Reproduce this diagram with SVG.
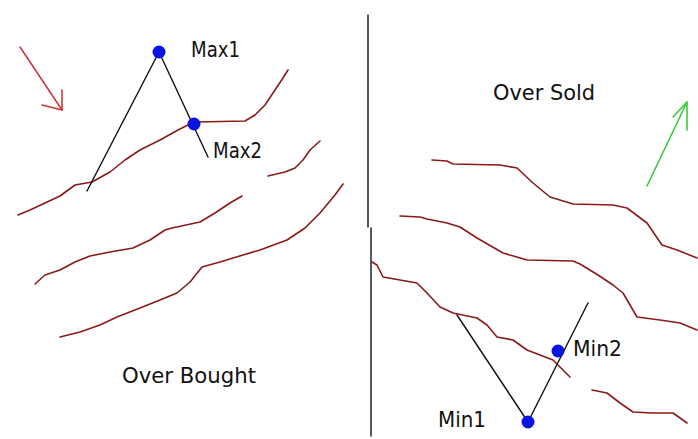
<svg xmlns="http://www.w3.org/2000/svg" width="698" height="439" viewBox="0 0 698 439">
  <style>
    .curve { fill: none; stroke: #8b1a1a; stroke-width: 1.6; stroke-linejoin: round; stroke-linecap: round; }
    .line { fill: none; stroke: #111; stroke-width: 1.4; stroke-linecap: round; stroke-linejoin: round; }
    .dot { fill: #0a14e0; }
    .lbl { font-family: "DejaVu Sans", "Liberation Sans", sans-serif; font-size: 21px; fill: #111; }
  </style>
  <rect width="698" height="439" fill="#ffffff"/>

  <g id="divider">
    <line x1="368" y1="15" x2="368" y2="227" class="line" stroke-width="2"/>
    <line x1="371" y1="228" x2="371" y2="436" class="line" stroke-width="2"/>
  </g>

  <g id="curves">
    <polyline class="curve" points="18,215 30,210 45,203 60,196 75,185 92,182 110,172 125,160 140,150 160,140 178,130 188,125 196,122 245,121 255,115 265,105 275,90 283,78 288,70"/>
    <polyline class="curve" points="268,176 285,172 295,168 303,160 310,150 320,141"/>
    <polyline class="curve" points="35,284 45,275 60,270 75,262 90,256 110,252 133,248 150,240 165,230 172,228 200,222 215,213 230,203 242,196"/>
    <polyline class="curve" points="60,337 80,332 100,325 117,317 140,308 160,300 177,293 190,282 202,267 220,262 233,258 260,250 287,240 305,228 320,213 335,195 343,184"/>
    <polyline class="curve" points="432,160 447,161 453,164 500,165 517,168 533,183 550,197 573,204 613,205 627,208 647,223 662,245 677,250 697,258"/>
    <polyline class="curve" points="400,216 420,217 427,219 447,223 460,227 477,238 503,253 527,260 573,261 580,264 598,275 613,285 623,293 637,317 660,320 680,323 697,330"/>
    <polyline class="curve" points="372,262 377,265 383,277 400,280 417,283 427,293 440,307 453,313 477,318 487,325 497,337 513,340 527,350 540,355 553,360 570,377"/>
    <polyline class="curve" points="592,390 607,393 620,403 633,412 653,413 673,413 687,423"/>
  </g>

  <g id="arrows">
    <g id="red-arrow" fill="none" stroke="#d03030" stroke-width="1.5" stroke-linecap="round" stroke-linejoin="round">
      <line x1="20" y1="47" x2="62" y2="110"/>
      <polyline points="42,105 62,110 62,90"/>
    </g>
    <g id="green-arrow" fill="none" stroke="#30c830" stroke-width="1.5" stroke-linecap="round" stroke-linejoin="round">
      <line x1="647" y1="186" x2="687" y2="102"/>
      <polyline points="673,117 687,102 687,130"/>
    </g>
  </g>

  <g id="connectors">
    <polyline class="line" points="87,191 159,52 208,157"/>
    <polyline class="line" points="457,315 528,422 588,303"/>
  </g>

  <g id="max1">
    <circle class="dot" cx="159" cy="52" r="6.5"/>
    <text class="lbl" x="191" y="57" textLength="49" lengthAdjust="spacingAndGlyphs">Max1</text>
  </g>
  <g id="max2">
    <circle class="dot" cx="194" cy="124" r="6.5"/>
    <text class="lbl" x="213" y="158" textLength="49" lengthAdjust="spacingAndGlyphs">Max2</text>
  </g>
  <g id="min2">
    <circle class="dot" cx="558" cy="351" r="6.5"/>
    <text class="lbl" x="573" y="356" textLength="49" lengthAdjust="spacingAndGlyphs">Min2</text>
  </g>
  <g id="min1">
    <circle class="dot" cx="528" cy="422" r="6.5"/>
    <text class="lbl" x="438" y="427" textLength="48" lengthAdjust="spacingAndGlyphs">Min1</text>
  </g>

  <g id="over-sold">
    <text class="lbl" x="493" y="100" textLength="102" lengthAdjust="spacingAndGlyphs">Over Sold</text>
  </g>
  <g id="over-bought">
    <text class="lbl" x="122" y="383" textLength="134" lengthAdjust="spacingAndGlyphs">Over Bought</text>
  </g>
</svg>
